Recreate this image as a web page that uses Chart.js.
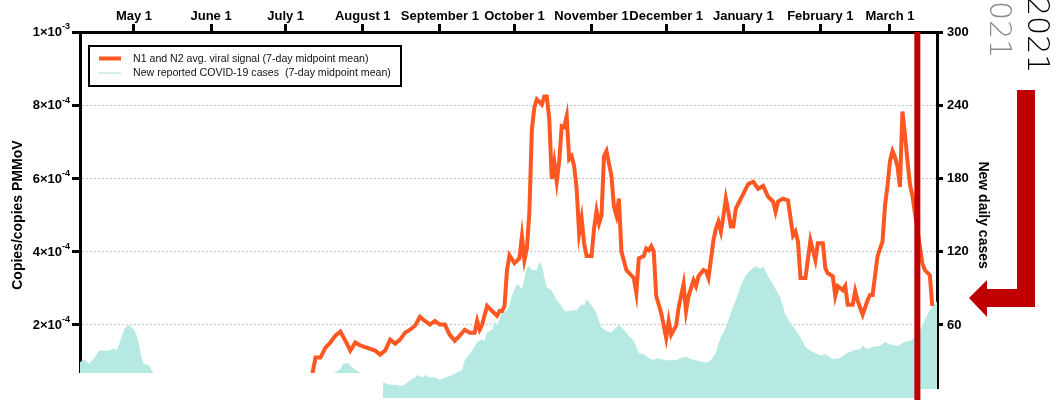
<!DOCTYPE html>
<html>
<head>
<meta charset="utf-8">
<script src="https://cdn.jsdelivr.net/npm/chart.js@4.4.1/dist/chart.umd.min.js"></script>
<style>
  html, body { margin: 0; padding: 0; background: #fff; overflow: hidden; }
  canvas { display: block; }
</style>
</head>
<body>
<canvas id="wwChart" width="1061" height="410"></canvas>
<script>
// days are counted from April 1, 2020 (day 0)
var monthDays = [30, 61, 91, 122, 153, 183, 214, 244, 275, 306, 334];
var monthLabels = ['May 1', 'June 1', 'July 1', 'August 1', 'September 1', 'October 1',
  'November 1', 'December 1', 'January 1', 'February 1', 'March 1'];

// N1/N2 viral signal, copies per copies PMMoV (7-day midpoint mean)
var signalDays = [101, 102, 103, 105, 107, 109, 111, 113, 115, 117, 119, 121, 127, 129, 131, 133, 135, 137, 139, 141,
  143, 145, 147, 149, 151, 153, 155, 157, 159, 161, 163, 165, 167, 168, 169, 170, 172, 174, 176, 177,
  178, 179, 180, 181, 183, 185, 186, 187, 188, 189, 190, 191, 192, 193, 194, 195, 196, 197, 198, 199,
  200, 201, 202, 203, 204, 205, 206, 207, 208, 209, 210, 211, 212, 214, 215, 216, 217, 218, 219, 220,
  222, 223, 224, 225, 226, 228, 231, 232, 233, 235, 236, 237, 238, 239, 240, 242, 244, 245, 246, 248,
  249, 251, 252, 253, 255, 256, 257, 259, 260, 261, 263, 264, 265, 266, 267, 268, 269, 270, 271, 272,
  273, 275, 277, 279, 281, 283, 285, 287, 288, 289, 291, 293, 295, 296, 297, 298, 300, 302, 304, 305,
  307, 308, 309, 311, 312, 313, 314, 315, 316, 317, 319, 320, 321, 323, 325, 326, 327, 329, 331, 332,
  333, 334, 335, 336, 337, 338, 339, 340, 341, 342, 343, 347, 348, 350, 351];
var signalValues = [0.40e-4, 0.76e-4, 1.11e-4, 1.11e-4, 1.38e-4, 1.52e-4, 1.71e-4, 1.82e-4, 1.57e-4, 1.30e-4,
  1.52e-4, 1.44e-4, 1.30e-4, 1.19e-4, 1.30e-4, 1.60e-4, 1.49e-4, 1.60e-4, 1.79e-4, 1.87e-4,
  1.98e-4, 2.22e-4, 2.11e-4, 2.01e-4, 2.11e-4, 2.01e-4, 2.01e-4, 1.73e-4, 1.57e-4, 1.71e-4,
  1.87e-4, 1.79e-4, 1.79e-4, 2.11e-4, 1.87e-4, 2.01e-4, 2.52e-4, 2.38e-4, 2.25e-4, 2.38e-4,
  2.38e-4, 2.52e-4, 3.50e-4, 3.90e-4, 3.69e-4, 3.82e-4, 4.42e-4, 3.77e-4, 4.09e-4, 5.09e-4,
  7.34e-4, 7.94e-4, 8.16e-4, 8.10e-4, 8.02e-4, 8.24e-4, 8.24e-4, 7.62e-4, 5.99e-4, 6.45e-4,
  5.91e-4, 6.48e-4, 7.43e-4, 7.40e-4, 7.70e-4, 6.53e-4, 6.61e-4, 6.34e-4, 5.72e-4, 4.50e-4,
  4.91e-4, 4.23e-4, 3.88e-4, 3.88e-4, 4.63e-4, 5.12e-4, 4.77e-4, 4.99e-4, 6.61e-4, 6.75e-4,
  6.07e-4, 5.23e-4, 4.99e-4, 5.45e-4, 4.01e-4, 3.50e-4, 3.28e-4, 2.87e-4, 3.82e-4, 3.88e-4,
  4.09e-4, 4.04e-4, 4.15e-4, 4.01e-4, 2.79e-4, 2.33e-4, 1.65e-4, 2.11e-4, 1.73e-4, 1.98e-4,
  2.47e-4, 3.12e-4, 2.38e-4, 2.79e-4, 3.22e-4, 3.06e-4, 3.33e-4, 3.50e-4, 3.47e-4, 3.28e-4,
  4.31e-4, 4.63e-4, 4.82e-4, 4.55e-4, 4.96e-4, 5.45e-4, 5.09e-4, 4.69e-4, 4.69e-4, 5.18e-4,
  5.31e-4, 5.58e-4, 5.85e-4, 5.91e-4, 5.72e-4, 5.80e-4, 5.50e-4, 5.37e-4, 5.09e-4, 5.37e-4,
  5.45e-4, 5.40e-4, 4.44e-4, 4.55e-4, 4.28e-4, 3.28e-4, 3.28e-4, 4.31e-4, 3.77e-4, 4.23e-4,
  4.23e-4, 3.55e-4, 3.41e-4, 3.33e-4, 2.79e-4, 3.06e-4, 3.01e-4, 2.95e-4, 3.06e-4, 2.55e-4,
  2.55e-4, 2.93e-4, 2.66e-4, 2.28e-4, 2.68e-4, 2.82e-4, 2.82e-4, 3.88e-4, 4.28e-4, 5.26e-4,
  5.80e-4, 6.48e-4, 6.75e-4, 6.59e-4, 6.34e-4, 5.77e-4, 7.83e-4, 7.20e-4, 6.50e-4, 5.85e-4,
  5.53e-4, 3.69e-4, 3.50e-4, 3.36e-4, 2.52e-4];

// new reported COVID-19 cases (7-day midpoint mean)
var caseDays = [8, 10, 12, 14, 16, 18, 20, 22, 23, 24, 25, 26, 27, 28, 29, 30, 31, 32, 33, 34,
  36, 37, 38, 42, 48, 55, 62, 70, 78, 86, 94, 100, 106, 110, 113, 114, 116, 118, 120, 123,
  127, 130, 133, 136, 137, 139, 141, 143, 144, 146, 147, 149, 151, 153, 155, 158, 160, 162, 163, 164,
  166, 168, 170, 171, 172, 174, 175, 176, 178, 180, 181, 182, 184, 185, 186, 188, 189, 190, 192, 193,
  194, 196, 197, 198, 200, 201, 203, 204, 206, 208, 210, 211, 212, 214, 216, 217, 218, 220, 222, 223,
  225, 227, 229, 231, 233, 235, 237, 239, 240, 242, 244, 246, 248, 250, 252, 254, 256, 258, 260, 262,
  264, 265, 266, 268, 270, 272, 274, 276, 278, 280, 282, 283, 285, 287, 290, 292, 295, 298, 300, 302,
  304, 306, 308, 311, 314, 316, 319, 322, 323, 325, 327, 330, 332, 334, 337, 340, 342, 343, 346, 348,
  350, 352, 353];
var caseValues = [29, 32, 28, 33, 39, 39, 39, 41, 39, 44, 50, 56, 59, 60, 58, 56, 52, 44, 34, 28,
  27, 23, 20, 17, 14, 12, 10, 9, 8, 9, 11, 13, 16, 20, 24, 28, 29, 25, 22, 18,
  14, 13, 11, 11, 10, 11, 15, 17, 19, 17, 19, 17, 17, 15, 17, 19, 21, 23, 31, 34,
  39, 46, 48, 47, 54, 56, 63, 60, 70, 72, 76, 84, 94, 92, 89, 107, 108, 105, 105, 112,
  109, 90, 90, 88, 80, 78, 72, 71, 72, 72, 77, 76, 81, 76, 70, 63, 58, 55, 54, 56,
  60, 56, 51, 47, 37, 36, 33, 31, 33, 32, 31, 31, 31, 33, 34, 32, 31, 30, 29, 31,
  37, 45, 50, 58, 70, 80, 92, 101, 105, 108, 106, 108, 100, 93, 82, 68, 59, 50, 42, 39,
  37, 35, 36, 32, 33, 36, 39, 40, 43, 40, 42, 43, 46, 44, 43, 46, 47, 48, 55, 64,
  72, 77, 80];

// left axis: mantissa and power of ten for each tick
var leftTicks = [0, 2e-4, 4e-4, 6e-4, 8e-4, 1e-3];
var leftTickBase = ['0', '2×10', '4×10', '6×10', '8×10', '1×10'];
var leftTickExp = ['', '-4', '-4', '-4', '-4', '-3'];
var rightTicks = [0, 60, 120, 180, 240, 300];
var markerDay = 345;

var orange = '#ff5722';
var teal = '#b5e9e1';
var darkRed = '#c00000';
var fontFamily = '"Liberation Sans", Arial, Helvetica, sans-serif';

Chart.defaults.font.family = fontFamily;
Chart.defaults.color = '#000';

function zip(xs, ys) {
  return xs.map(function (x, i) { return { x: x, y: ys[i] }; });
}

var boldTick = { size: 13, weight: 'bold' };

// left tick labels with raised exponents
var powerLabels = {
  id: 'powerLabels',
  afterDraw: function (chart) {
    var c = chart.ctx;
    var s = chart.scales.y;
    var right = s.right - 10;
    c.save();
    c.fillStyle = '#000';
    c.textBaseline = 'middle';
    c.textAlign = 'right';
    s.ticks.forEach(function (t, i) {
      var py = s.getPixelForValue(t.value);
      c.font = 'bold 9px ' + fontFamily;
      var ew = c.measureText(leftTickExp[i]).width;
      c.fillText(leftTickExp[i], right, py - 5);
      c.font = 'bold 13px ' + fontFamily;
      c.fillText(leftTickBase[i], right - ew, py + 0.5);
    });
    c.restore();
  }
};

// legend box, the red marker, the arrow and the year labels
var overlay = {
  id: 'overlay',
  afterDraw: function (chart) {
    var c = chart.ctx;
    var a = chart.chartArea;
    var ds = chart.data.datasets;
    c.save();

    // legend
    var lx = a.left + 8, ly = a.top + 13;
    c.strokeStyle = '#000';
    c.lineWidth = 2;
    c.strokeRect(lx + 1, ly + 1, 312, 40);
    c.font = '10.6px ' + fontFamily;
    c.textBaseline = 'middle';
    c.fillStyle = '#111';
    var rows = [ly + 13.5, ly + 28];
    ds.forEach(function (d, i) {
      c.beginPath();
      c.strokeStyle = d.legendColor;
      c.lineWidth = i === 0 ? 4 : 1;
      c.moveTo(lx + 11, rows[i]);
      c.lineTo(lx + 33, rows[i]);
      c.stroke();
      c.fillText(d.label, lx + 45, rows[i] + 0.5);
    });

    // trimmed lower edge
    c.fillStyle = '#fff';
    c.fillRect(0, 373, 383, 40);
    c.fillRect(920.5, 389, 200, 30);

    // marker line
    var mx = chart.scales.x.getPixelForValue(markerDay);
    c.fillStyle = darkRed;
    c.fillRect(mx - 3, a.top, 6, 400 - a.top);

    // bent arrow pointing at the chart
    c.beginPath();
    c.moveTo(1017, 90);
    c.lineTo(1035, 90);
    c.lineTo(1035, 307);
    c.lineTo(987, 307);
    c.lineTo(987, 317);
    c.lineTo(969, 298);
    c.lineTo(987, 280);
    c.lineTo(987, 289);
    c.lineTo(1017, 289);
    c.closePath();
    c.fill();

    // year labels
    c.font = '200 30px "DejaVu Sans ExtraLight", "DejaVu Sans", sans-serif';
    c.textBaseline = 'alphabetic';
    c.textAlign = 'left';
    c.save();
    c.translate(990, -18);
    c.rotate(Math.PI / 2);
    c.fillStyle = '#8c8c8c';
    c.fillText('2021', 0, 0);
    c.restore();
    c.save();
    c.translate(1028, -3);
    c.rotate(Math.PI / 2);
    c.fillStyle = '#000';
    c.fillText('2021', 0, 0);
    c.restore();

    c.restore();
  }
};

var ctx = document.getElementById('wwChart').getContext('2d');
var chart = new Chart(ctx, {
  type: 'line',
  data: {
    datasets: [{
      label: 'N1 and N2 avg. viral signal (7-day midpoint mean)',
      data: zip(signalDays, signalValues),
      yAxisID: 'y',
      borderColor: orange,
      legendColor: orange,
      borderWidth: 4,
      pointRadius: 0,
      tension: 0,
      fill: false
    }, {
      label: 'New reported COVID-19 cases  (7-day midpoint mean)',
      data: zip(caseDays, caseValues),
      yAxisID: 'y1',
      borderWidth: 0,
      borderColor: teal,
      legendColor: '#a6e0d8',
      backgroundColor: teal,
      pointRadius: 0,
      tension: 0,
      fill: 'origin'
    }]
  },
  options: {
    responsive: false,
    animation: false,
    layout: { padding: { left: 0, right: 64, top: 0, bottom: 9 } },
    plugins: {
      legend: { display: false },
      tooltip: { enabled: false }
    },
    scales: {
      x: {
        type: 'linear',
        position: 'top',
        min: 8.3,
        max: 352.9,
        afterBuildTicks: function (s) {
          s.ticks = monthDays.map(function (v) { return { value: v }; });
        },
        afterFit: function (s) { s.height = 32; },
        ticks: {
          autoSkip: false,
          maxRotation: 0,
          padding: 0,
          font: boldTick,
          callback: function (v, i) { return monthLabels[i]; }
        },
        grid: { drawOnChartArea: false, tickLength: 8, tickWidth: 3, tickColor: '#000' },
        border: { color: '#000', width: 3 }
      },
      y: {
        position: 'left',
        min: 0,
        max: 1e-3,
        afterBuildTicks: function (s) {
          s.ticks = leftTicks.map(function (v) { return { value: v }; });
        },
        afterFit: function (s) { s.width = 80; },
        ticks: { display: false },
        grid: {
          color: function (g) {
            var v = g.tick ? g.tick.value : 0;
            return v > 0 && v < 1e-3 ? '#c4c4c4' : 'rgba(0,0,0,0)';
          },
          lineWidth: 1,
          tickLength: 8,
          tickWidth: 3,
          tickColor: '#000'
        },
        border: { color: '#000', width: 3, dash: [2, 2] },
        title: {
          display: true,
          text: 'Copies/copies PMMoV',
          font: { size: 14, weight: 'bold' },
          padding: { top: 10, bottom: 0 }
        }
      },
      y1: {
        position: 'right',
        min: 0,
        max: 300,
        afterBuildTicks: function (s) {
          s.ticks = rightTicks.map(function (v) { return { value: v }; });
        },
        afterFit: function (s) { s.width = 60; },
        ticks: { padding: 4, font: boldTick },
        grid: { drawOnChartArea: false, tickLength: 6, tickWidth: 3, tickColor: '#000' },
        border: { color: '#000', width: 3 },
        title: {
          display: true,
          text: 'New daily cases',
          font: { size: 14, weight: 'bold' },
          padding: { top: 6, bottom: 0 }
        }
      }
    }
  },
  plugins: [powerLabels, overlay]
});
</script>
</body>
</html>
